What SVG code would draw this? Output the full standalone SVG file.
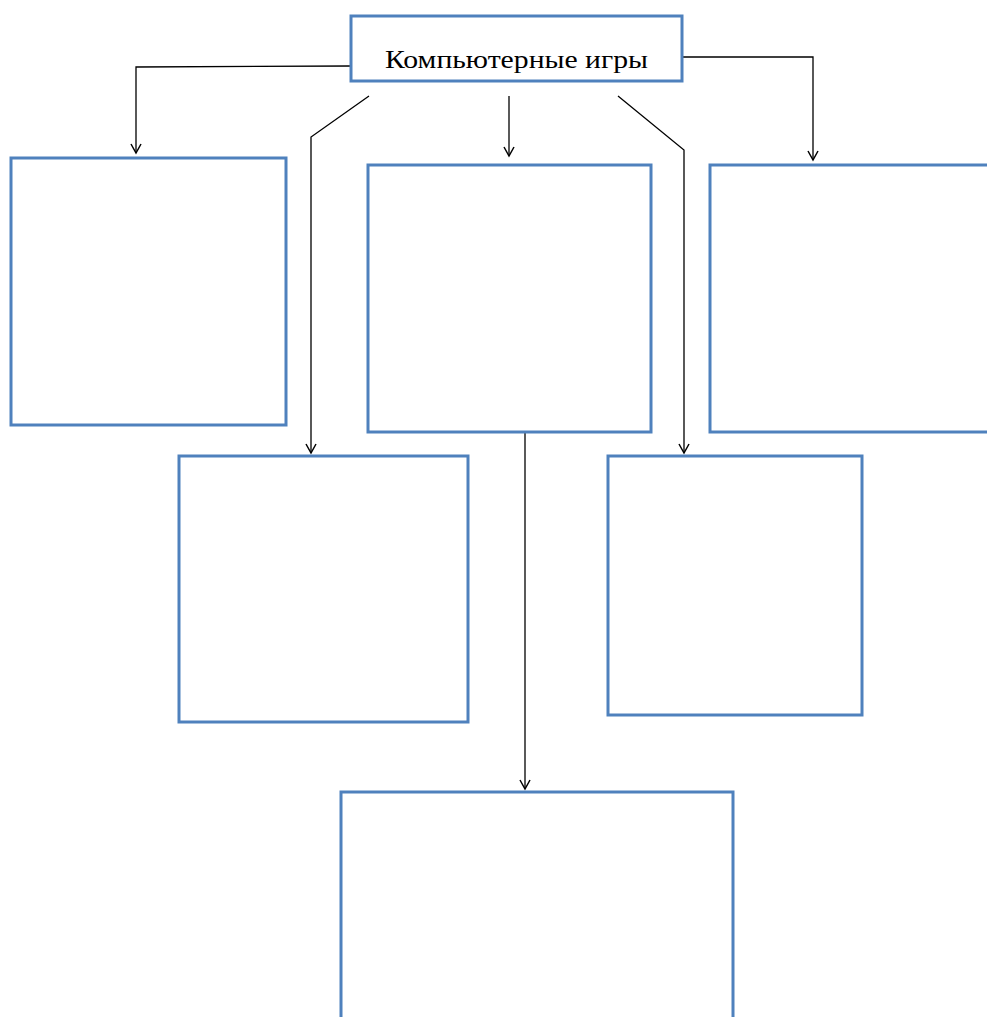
<svg xmlns="http://www.w3.org/2000/svg" width="987" height="1017" viewBox="0 0 987 1017">
<style>
.box{fill:#fff;stroke:#4f81bd;stroke-width:3}
.con{fill:none;stroke:#000;stroke-width:1.3}
.lbl{font-family:"Liberation Serif",serif;font-size:26px;fill:#000}
</style>
<defs>
<marker id="arr" markerWidth="12" markerHeight="12" refX="10" refY="6" orient="auto" markerUnits="userSpaceOnUse">
<path d="M1,1 L10,6 L1,11" fill="none" stroke="#000" stroke-width="1.5"/>
</marker>
</defs>
<rect width="987" height="1017" fill="#fff"/>
<g id="connectors">
<path class="con" d="M351,66 L136,67 L136,153" marker-end="url(#arr)"/>
<path class="con" d="M369,96 L311,137 L311,453" marker-end="url(#arr)"/>
<path class="con" d="M509,96 L509,156" marker-end="url(#arr)"/>
<path class="con" d="M618,96 L684,150 L684,453" marker-end="url(#arr)"/>
<path class="con" d="M682,57 L813,57 L813,160" marker-end="url(#arr)"/>
<path class="con" d="M525,432 L525,789" marker-end="url(#arr)"/>
</g>
<g id="root">
<rect class="box" x="351" y="16" width="331" height="65"/>
<text class="lbl" x="385" y="68" textLength="263" lengthAdjust="spacingAndGlyphs">Компьютерные игры</text>
</g>
<g id="box1"><rect class="box" x="11" y="158" width="275" height="267"/></g>
<g id="box2"><rect class="box" x="368" y="165" width="283" height="267"/></g>
<g id="box3"><rect class="box" x="710" y="165" width="290" height="267"/></g>
<g id="box4"><rect class="box" x="179" y="456" width="289" height="266"/></g>
<g id="box5"><rect class="box" x="608" y="456" width="254" height="259"/></g>
<g id="box6"><rect class="box" x="341" y="792" width="392" height="240"/></g>
</svg>
